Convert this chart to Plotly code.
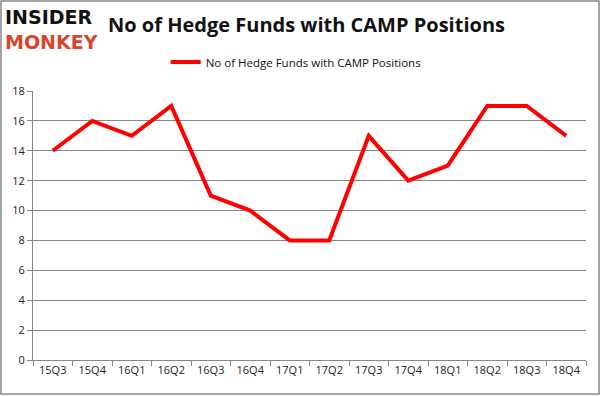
import plotly.graph_objects as go

quarters = ["15Q3", "15Q4", "16Q1", "16Q2", "16Q3", "16Q4", "17Q1", "17Q2",
            "17Q3", "17Q4", "18Q1", "18Q2", "18Q3", "18Q4"]
hedge_funds = [14, 16, 15, 17, 11, 10, 8, 8, 15, 12, 13, 17, 17, 15]
y_ticks = [0, 2, 4, 6, 8, 10, 12, 14, 16, 18]
series_name = "No of Hedge Funds with CAMP Positions"
title_text = "No of Hedge Funds with CAMP Positions"
logo_top = "INSIDER"
logo_bottom = "MONKEY"

W, H = 601, 396
L, R, T, B = 33, 15, 91, 36
PW, PH = W - L - R, H - T - B

fig = go.Figure()
fig.add_trace(go.Scatter(
    x=quarters, y=hedge_funds, mode="lines", name=series_name,
    line=dict(color="#ff0000", width=4),
))

fig.update_layout(
    width=W, height=H,
    margin=dict(l=L, r=R, t=T, b=B, autoexpand=False),
    paper_bgcolor="white", plot_bgcolor="white",
    font=dict(family="Open Sans", size=11, color="#222"),
    showlegend=True,
    legend=dict(orientation="h", x=0.475, xanchor="center",
                y=1 - 62 / H, yref="container", yanchor="middle",
                font=dict(size=11.5, color="#111"),
                bgcolor="rgba(0,0,0,0)"),
    title=dict(text=title_text, x=0.51, xanchor="center", y=1 - 25 / H,
               yref="container", yanchor="middle",
               font=dict(family="Open Sans", size=20, color="#111", weight="bold")),
)

fig.update_xaxes(
    type="category", range=[-0.5, len(quarters) - 0.5],
    showline=True, linecolor="#888", linewidth=1,
    ticks="outside", tickson="boundaries", ticklen=5, tickcolor="#888",
    showgrid=False, tickfont=dict(size=11, color="#222"),
)
fig.update_yaxes(
    range=[0, 18], tickvals=y_ticks,
    showline=True, linecolor="#888", linewidth=1,
    ticks="outside", ticklen=5, tickcolor="#888",
    showgrid=True, gridcolor="#868686", gridwidth=1,
    tickfont=dict(size=11, color="#222"), zeroline=False,
)

def px_x(p):
    return (p - L) / PW

def px_y(p):
    return (H - B - p) / PH

fig.add_shape(type="rect", xref="paper", yref="paper",
              x0=px_x(1), x1=px_x(W - 2), y0=px_y(H - 2), y1=px_y(1),
              line=dict(color="#888", width=1.5), fillcolor="rgba(0,0,0,0)")

fig.add_annotation(
    text=(f"<span style='color:#111'>{logo_top}</span><br>"
          f"<span style='color:#d9452b'>{logo_bottom}</span>"),
    xref="paper", yref="paper", x=px_x(3), y=px_y(4),
    xanchor="left", yanchor="top", align="left", showarrow=False,
    font=dict(family="DejaVu Sans", size=19, color="#111", weight="bold"))

fig.write_html("out.html", config={"displayModeBar": False},
               post_script="document.body.style.margin='0';document.body.style.overflow='hidden';")
